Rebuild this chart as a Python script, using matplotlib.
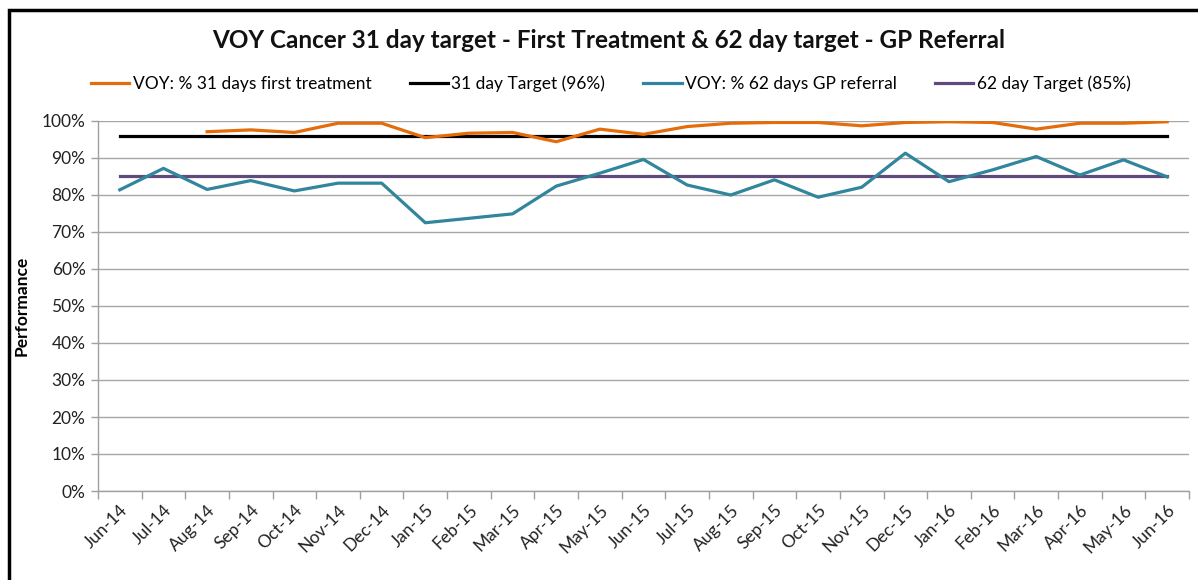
#!/usr/bin/env python3
"""VOY cancer 31 / 62 day target performance, Jun-14 to Jun-16."""

import matplotlib
matplotlib.use("Agg")
import matplotlib.pyplot as plt
import numpy as np
from matplotlib.patches import Rectangle

months = [
    "Jun-14", "Jul-14", "Aug-14", "Sep-14", "Oct-14", "Nov-14", "Dec-14",
    "Jan-15", "Feb-15", "Mar-15", "Apr-15", "May-15", "Jun-15", "Jul-15",
    "Aug-15", "Sep-15", "Oct-15", "Nov-15", "Dec-15", "Jan-16", "Feb-16",
    "Mar-16", "Apr-16", "May-16", "Jun-16",
]
# first two months have no 31 day figure
pct_31_first_treatment = [
    np.nan, np.nan, 97.1, 97.6, 96.9, 99.4, 99.4, 95.5, 96.7, 96.9, 94.4,
    97.8, 96.4, 98.5, 99.4, 99.6, 99.6, 98.7, 99.6, 99.8, 99.6, 97.8,
    99.4, 99.4, 99.8,
]
pct_62_gp_referral = [
    81.4, 87.2, 81.5, 83.9, 81.1, 83.2, 83.2, 72.5, 73.7, 74.9, 82.4,
    85.9, 89.6, 82.7, 80.0, 84.1, 79.4, 82.1, 91.3, 83.6, 86.8, 90.4,
    85.4, 89.5, 84.9,
]
target_31 = 96.0
target_62 = 85.0

plt.rcParams["font.family"] = ["Lato", "DejaVu Sans"]

fig = plt.figure(figsize=(11.98, 5.80), dpi=100)
ax = fig.add_axes([98 / 1198, 1 - 491 / 580, (1189 - 98) / 1198, (491 - 121) / 580])

x = np.arange(len(months))
ax.plot(x, np.array(pct_31_first_treatment) / 100, color="#E46C0A", lw=2.3,
        label="VOY: % 31 days first treatment", zorder=4)
ax.plot(x, [target_31 / 100] * len(months), color="black", lw=2.3,
        label="31 day Target (96%)", zorder=3)
ax.plot(x, np.array(pct_62_gp_referral) / 100, color="#31859C", lw=2.3,
        label="VOY: % 62 days GP referral", zorder=4)
ax.plot(x, [target_62 / 100] * len(months), color="#604A7B", lw=2.3,
        label="62 day Target (85%)", zorder=3)

ax.set_xlim(-0.5, len(months) - 0.5)
ax.set_ylim(0, 1.0)

# category axis: tick marks between categories, labels on centres
ax.set_xticks(np.arange(-0.5, len(months), 1.0))
ax.set_xticklabels([])
ax.set_xticks(x, minor=True)
ax.set_xticklabels(months, minor=True, rotation=45, ha="right",
                   rotation_mode="anchor", fontsize=12.5, color="#222222")
ax.tick_params(axis="x", which="major", length=6, color="#A0A0A0", width=1)
ax.tick_params(axis="x", which="minor", length=0, pad=8)

ax.set_yticks(np.arange(0, 1.01, 0.1))
ax.set_yticklabels([f"{int(round(v * 100))}%" for v in np.arange(0, 1.01, 0.1)],
                   fontsize=12.5, color="#222222")
ax.tick_params(axis="y", length=5, color="#A0A0A0", width=1, pad=4)

ax.grid(axis="y", color="#A6A6A6", lw=1.0, zorder=0)
for side in ["top", "right"]:
    ax.spines[side].set_visible(False)
for side in ["left", "bottom"]:
    ax.spines[side].set_color("#A0A0A0")
    ax.spines[side].set_linewidth(1.0)

ax.set_ylabel("Performance", fontsize=12.5, fontweight="bold")
ax.yaxis.set_label_coords(-0.063, 0.5)

fig.text(0.508, 1 - 40 / 580, "VOY Cancer 31 day target - First Treatment & 62 day target - GP Referral",
         ha="center", va="center", fontsize=17.5, fontweight="bold", color="#111111")

fig.legend(loc="center", bbox_to_anchor=(0.51, 1 - 84 / 580), ncol=4, frameon=False,
           fontsize=12.5, handlelength=2.2, handletextpad=0.2, columnspacing=2.2)

fig.patches.append(Rectangle((8.5 / 1198, -0.05), 1.2, 1 - 9.5 / 580 + 0.05,
                             transform=fig.transFigure, fill=False,
                             edgecolor="black", lw=2.5))

fig.savefig("out.png", dpi=100)
